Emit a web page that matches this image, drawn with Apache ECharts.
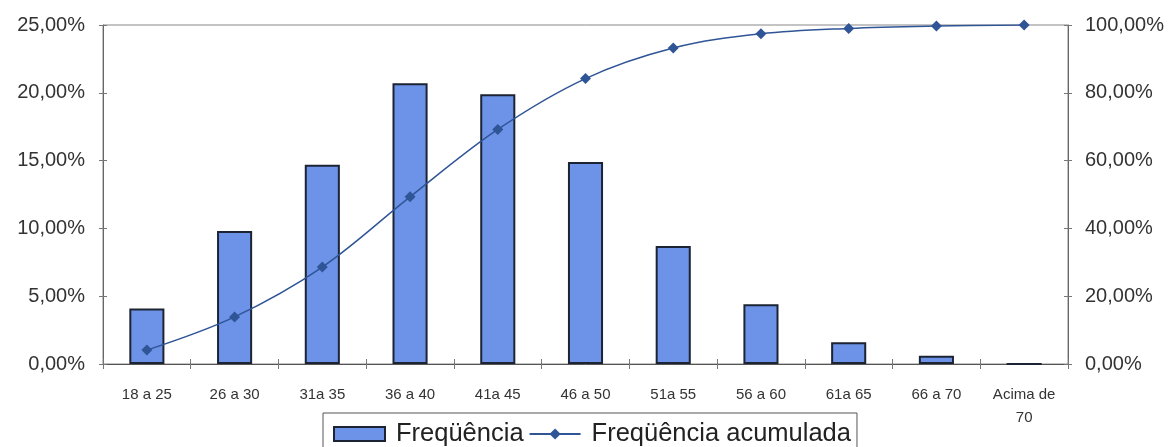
<!DOCTYPE html>
<html><head><meta charset="utf-8">
<script src="https://cdn.jsdelivr.net/npm/echarts@6/dist/echarts.min.js"></script>
<style>html,body{margin:0;padding:0;background:#fff}#c{width:1172px;height:447px}</style>
</head><body><div id="c"></div>
<script>
const categories = ['18 a 25','26 a 30','31a 35','36 a 40','41a 45','46 a 50','51a 55','56 a 60','61a 65','66 a 70','Acima de\n70'];
const frequencia = [4.1, 9.8, 14.7, 20.7, 19.9, 14.9, 8.7, 4.4, 1.6, 0.6, 0];
const acumulada = [4.1, 13.9, 28.6, 49.3, 69.2, 84.2, 93.2, 97.4, 99.0, 99.7, 100];
const leftTicks = {min: 0, max: 25, interval: 5};
const rightTicks = {min: 0, max: 100, interval: 20};

const fmt = v => v.toFixed(2).replace('.', ',') + '%';
const FONT = '"Liberation Sans", Arial, sans-serif';
const tickStyle = {color: '#777'};
const chart = echarts.init(document.getElementById('c'), null, {renderer: 'canvas'});
chart.setOption({
  animation: false,
  backgroundColor: '#fff',
  grid: {left: 103, right: 104, top: 25, bottom: 83, show: true, borderColor: '#888', borderWidth: 1},
  legend: {
    left: 323, top: 413,
    data: [
      {name: 'Freqüência', icon: 'rect', itemStyle: {color: '#6d93e8', borderColor: '#1c2433', borderWidth: 2}},
      {name: 'Freqüência acumulada'}
    ],
    itemWidth: 51, itemHeight: 14, itemGap: 5,
    borderColor: '#555', borderWidth: 1, padding: [8, 6, 14, 10],
    textStyle: {fontFamily: FONT, fontSize: 25.5, color: '#222', padding: [0, 0, 0, 6]}
  },
  xAxis: [
    {type: 'category', data: categories,
     axisLine: {lineStyle: {color: '#555'}},
     axisTick: {show: true, length: 5, lineStyle: tickStyle},
     axisLabel: {fontFamily: FONT, fontSize: 15, color: '#333', margin: 19, lineHeight: 23, interval: 0}},
    {type: 'category', data: categories, position: 'bottom', gridIndex: 0,
     axisLine: {show: false},
     axisTick: {show: true, inside: true, length: 5, lineStyle: tickStyle},
     axisLabel: {show: false}}
  ],
  yAxis: [
    {type: 'value', min: leftTicks.min, max: leftTicks.max, interval: leftTicks.interval,
     splitLine: {show: false},
     axisLine: {show: true, lineStyle: {color: '#666'}},
     axisTick: {show: true, length: 4, lineStyle: tickStyle},
     axisLabel: {formatter: fmt, fontFamily: FONT, fontSize: 20, color: '#333', margin: 18}},
    {type: 'value', min: rightTicks.min, max: rightTicks.max, interval: rightTicks.interval,
     splitLine: {show: false},
     axisLine: {show: true, lineStyle: {color: '#666'}},
     axisTick: {show: true, length: 4, lineStyle: tickStyle},
     axisLabel: {formatter: fmt, fontFamily: FONT, fontSize: 20, color: '#333', margin: 17}},
    {type: 'value', min: leftTicks.min, max: leftTicks.max, interval: leftTicks.interval, position: 'left',
     splitLine: {show: false}, axisLine: {show: false},
     axisTick: {show: true, inside: true, length: 4, lineStyle: tickStyle},
     axisLabel: {show: false}},
    {type: 'value', min: rightTicks.min, max: rightTicks.max, interval: rightTicks.interval, position: 'right',
     splitLine: {show: false}, axisLine: {show: false},
     axisTick: {show: true, inside: true, length: 4, lineStyle: tickStyle},
     axisLabel: {show: false}}
  ],
  series: [
    {name: 'Freqüência', type: 'bar', data: frequencia, yAxisIndex: 0, barWidth: '40%',
     itemStyle: {color: '#6d93e8', borderColor: '#1c2433', borderWidth: 2}},
    {name: 'Freqüência acumulada', type: 'line', data: acumulada, yAxisIndex: 1, smooth: 0.35,
     symbol: 'diamond', symbolSize: 11,
     lineStyle: {color: '#2f5597', width: 1.5},
     itemStyle: {color: '#2f5597'}}
  ]
});
</script></body></html>
